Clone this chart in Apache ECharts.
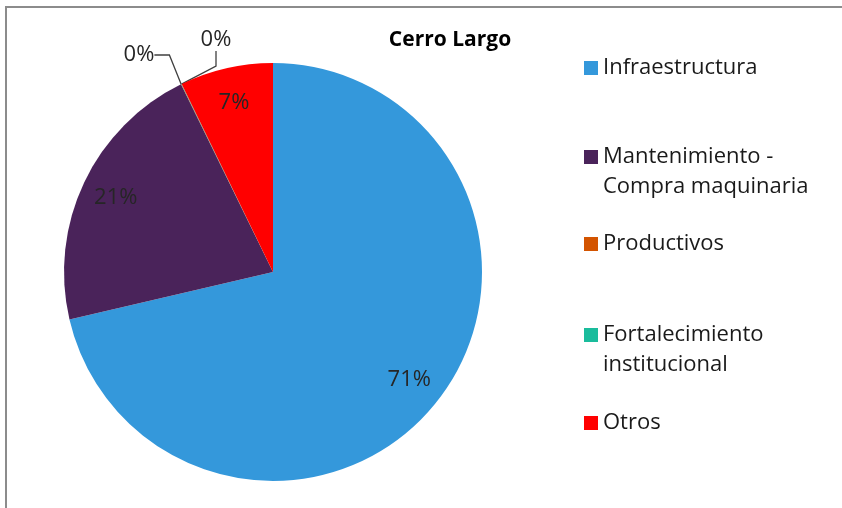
<!DOCTYPE html>
<html>
<head>
<meta charset="utf-8">
<script src="https://cdn.jsdelivr.net/npm/echarts@6/dist/echarts.min.js"></script>
<style>html,body{margin:0;padding:0;background:#fff;}#c{width:842px;height:508px;}</style>
</head>
<body>
<div id="c"></div>
<script>
const titleText = 'Cerro Largo';
const categories = ['Infraestructura', 'Mantenimiento - Compra maquinaria', 'Productivos', 'Fortalecimiento institucional', 'Otros'];
const legendLabels = ['Infraestructura', 'Mantenimiento -\nCompra maquinaria', 'Productivos', 'Fortalecimiento\ninstitucional', 'Otros'];
const values = [71.4, 21.4, 0.03, 0.03, 7.2];
const colors = ['#3498DB', '#4A235A', '#D35400', '#1ABC9C', '#FF0000'];

const FONT = 'Open Sans';
const outsideIdx = [2, 3];
const legendTops = [53, 112, 229, 290, 408];

const fmt = p => Math.round(p.percent) + '%';

const legends = categories.map((c, i) => {
  const multi = legendLabels[i].indexOf('\n') >= 0;
  return {
    data: [c],
    left: 584,
    top: legendTops[i],
    padding: 0,
    orient: 'vertical',
    icon: 'rect',
    itemWidth: 14,
    itemHeight: 14,
    selectedMode: false,
    formatter: () => (multi ? ' \n' : '') + legendLabels[i],
    textStyle: {
      fontFamily: FONT, fontSize: 22, color: '#1a1a1a', lineHeight: 30
    }
  };
});

const mainData = categories.map((c, i) => ({
  name: c, value: values[i],
  itemStyle: { color: colors[i] },
  label: { show: outsideIdx.includes(i) },
  labelLine: { show: outsideIdx.includes(i) }
}));
const overlayData = categories.map((c, i) => ({
  name: c, value: values[i],
  label: { show: !outsideIdx.includes(i) }
}));

const chart = echarts.init(document.getElementById('c'), null, { renderer: 'canvas' });
chart.setOption({
  animation: false,
  backgroundColor: '#fff',
  color: colors,
  title: {
    text: titleText, left: 445, top: 25, textAlign: 'center',
    textStyle: { fontFamily: FONT, fontSize: 21, fontWeight: 'bold', color: '#000' }
  },
  legend: legends,
  graphic: [{
    type: 'rect', shape: { x: 6, y: 7, width: 900, height: 600 },
    style: { fill: 'none', stroke: '#8c8c8c', lineWidth: 2 }, silent: true, z: -1
  }],
  series: [{
    type: 'pie',
    center: [273, 272],
    radius: [0, 209],
    startAngle: 90,
    clockwise: true,
    avoidLabelOverlap: false,
    itemStyle: { borderWidth: 0 },
    label: {
      position: 'outside', formatter: fmt,
      fontFamily: FONT, fontSize: 22, color: '#262626'
    },
    labelLine: { length: 20, length2: 15, lineStyle: { color: '#404040', width: 1.3 } },
    labelLayout: function (p) {
      if (p.dataIndex === 2) return { x: 139, y: 55, align: 'center', verticalAlign: 'middle' };
      if (p.dataIndex === 3) return { x: 216, y: 40, align: 'center', verticalAlign: 'middle' };
    },
    emphasis: { disabled: true },
    data: mainData
  }, {
    type: 'pie',
    center: [273, 272],
    radius: [133, 209],
    startAngle: 90,
    clockwise: true,
    silent: true,
    itemStyle: { color: 'rgba(0,0,0,0)', borderWidth: 0 },
    label: {
      position: 'inside', formatter: fmt,
      fontFamily: FONT, fontSize: 22, color: '#262626'
    },
    labelLine: { show: false },
    emphasis: { disabled: true },
    data: overlayData
  }]
});
</script>
</body>
</html>
